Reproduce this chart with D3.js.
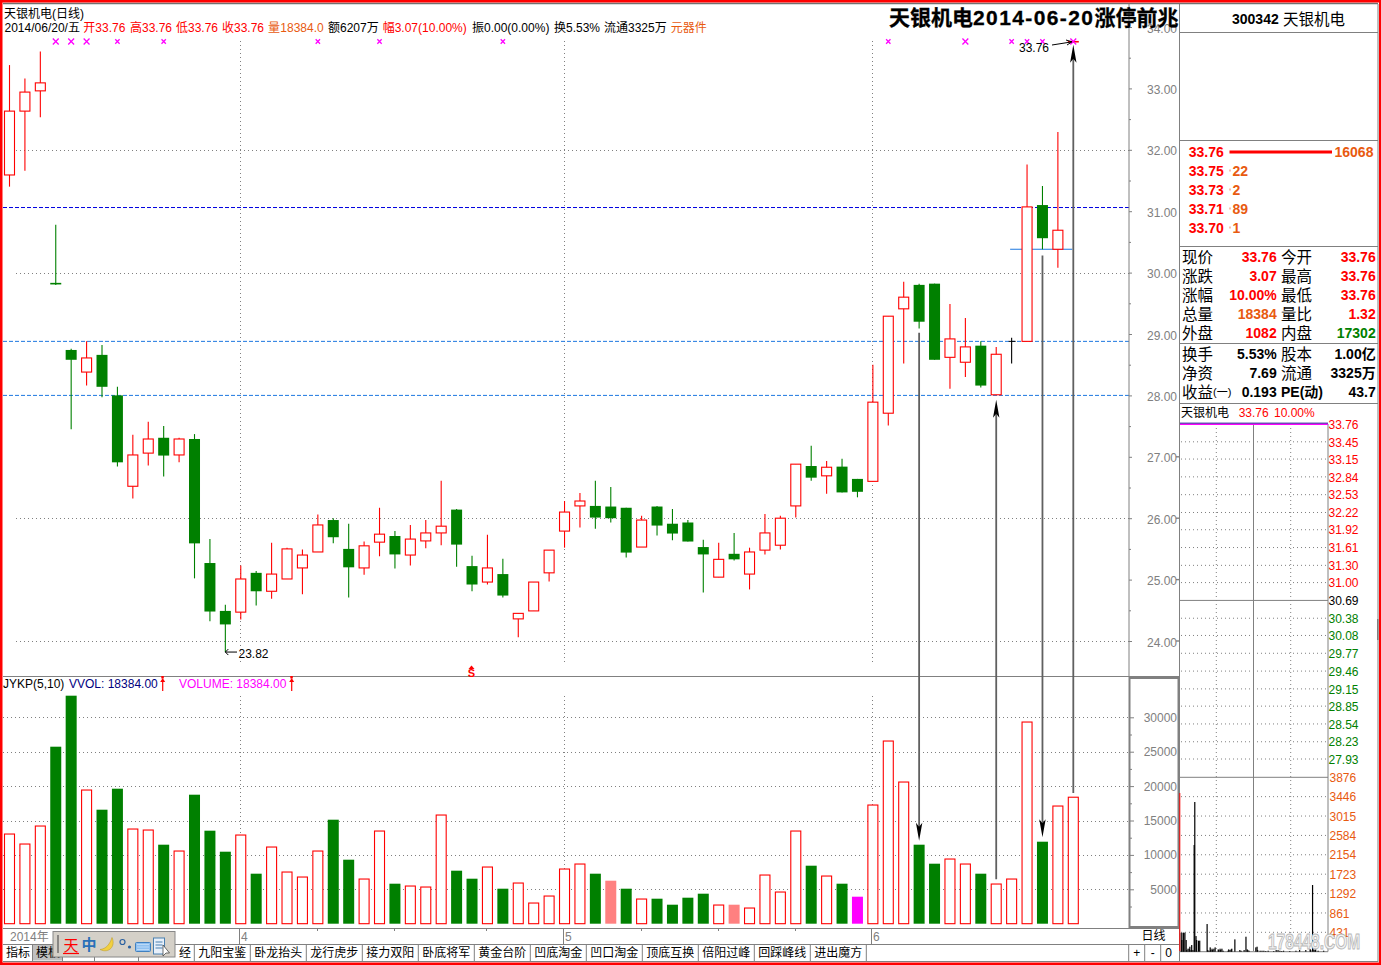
<!DOCTYPE html>
<html><head><meta charset="utf-8">
<style>html,body{margin:0;padding:0;background:#fff}svg{display:block;position:absolute;left:0;top:0}
text{font-family:"Liberation Sans","Noto Sans CJK SC",sans-serif;font-size:12px;dominant-baseline:central}</style>
<script src="https://d3js.org/d3.v7.min.js"></script></head><body>
<script>
// ---------- daily candles ----------
const opens=[31.59,32.63,32.96,29.82,28.74,28.38,28.66,28.00,26.52,27.06,
27.31,27.03,27.29,25.27,24.49,24.47,25.11,24.81,25.01,25.19,
25.45,25.97,25.50,25.19,25.61,25.71,25.40,25.63,25.76,26.14,
25.22,24.96,25.09,24.36,24.49,25.11,25.79,26.20,26.20,26.19,
26.17,25.53,26.19,25.91,25.93,25.53,25.04,25.42,25.09,25.48,
25.56,26.20,26.85,26.69,26.84,26.64,26.60,27.71,29.41,29.80,
29.82,28.62,28.54,28.81,28.01,28.88,28.88,31.10,30.38,33.76];
const closes=[32.63,32.94,33.09,29.80,28.58,28.61,28.14,26.91,27.03,27.29,
27.02,27.29,25.59,24.48,24.27,25.01,24.81,25.09,25.50,25.40,
25.89,25.69,25.20,25.55,25.74,25.41,25.66,25.76,25.87,25.57,
24.92,25.19,24.74,24.45,24.96,25.48,26.10,26.28,26.01,26.00,
25.44,25.97,25.88,25.75,25.62,25.41,25.33,25.33,25.45,25.76,
26.00,26.88,26.66,26.83,26.42,26.43,27.89,29.29,29.60,29.20,
28.58,28.92,28.79,28.16,28.67,28.88,31.07,30.56,30.69,33.76];
const highs=[33.38,33.16,33.60,30.78,28.76,28.88,28.82,28.14,27.36,27.57,
27.50,27.31,27.37,25.66,24.59,25.23,25.14,25.60,25.52,25.49,
26.06,26.00,25.91,25.62,26.17,25.79,25.89,25.97,26.61,26.15,
25.39,25.73,25.34,24.45,24.96,25.48,26.28,26.41,26.61,26.51,
26.17,26.04,26.20,26.15,25.97,25.65,25.60,25.76,25.52,26.07,
26.04,26.88,27.18,26.93,26.97,26.64,28.50,29.29,29.85,29.82,
29.82,29.49,29.26,28.88,28.79,28.94,31.76,31.41,32.29,33.76];
const lows=[31.40,31.66,32.53,29.80,27.45,28.16,27.97,26.84,26.32,26.86,
26.68,26.91,25.02,24.32,23.82,24.35,24.58,24.69,25.01,24.76,
25.45,25.59,24.71,25.08,25.38,25.18,25.23,25.51,25.56,25.21,
24.81,24.92,24.71,24.06,24.49,24.97,25.52,25.85,25.83,25.93,
25.36,25.53,25.72,25.64,25.62,24.79,25.04,25.31,24.84,25.41,
25.49,26.01,26.61,26.40,26.42,26.34,26.60,27.51,28.52,29.09,
28.58,28.11,28.30,28.13,28.01,28.52,28.88,30.38,30.08,33.76];
const volumes=[13033,11580,14196,25727,33140,19428,16570,19622,13760,13614,
11483,10562,18750,13518,10465,12888,7268,11144,7510,6783,
10562,15116,9302,6492,13469,5814,5475,5330,15795,7704,
6541,8237,5087,5911,3004,4021,7946,8673,7268,6250,
5087,3585,3634,2762,3779,4361,2713,2762,2277,7074,
4603,13469,8430,6928,5814,3924,17248,26551,20591,11483,
8721,9399,8673,7268,5766,6492,29312,11919,17103,18384];
const pinkBars=[39,47], magentaBars=[55], redVolumeDoji=[65,69];
const markerIdx=[3,4,5,7,10,20,24,32,57,62,65,66,67,69], bigMarkers=[3,4,5,62,69];
const priceTicks=[24,25,26,27,28,29,30,31,32,33,34];
const priceMinor=[24.5,25.5,26.5,27.5,28.5,29.5,30.5,31.5,32.5,33.5];
const gridPrices=[24,26,30,32];
const volTicks=[5000,10000,15000,20000,25000,30000];
const volMinor=[2500,7500,12500,17500,22500,27500];
const monthIdx=[15,36,56], monthLabels=["4","5","6"];
const weekTickIdx=[20,25,31,41,46,51];
const arrows=[{i:59,from:["p",29.02],to:["v",12060]},{i:64,from:["v",6450],to:["p",27.93]},
 {i:67,from:["p",30.28],to:["v",12550]},{i:69,from:["v",19000],to:["p",33.71]}];
const tabs=["九阳宝鉴","卧龙抬头","龙行虎步","接力双阳","卧底将军","黄金台阶","凹底淘金","凹口淘金","顶底互换","倍阳过峰","回踩峰线","进出魔方"];
// ---------- quote panel ----------
const bookPrices=["33.76","33.75","33.73","33.71","33.70"], bookVols=[16068,22,2,89,1];
const statRows=[["现价","33.76","今开","33.76","#f00","#f00"],["涨跌","3.07","最高","33.76","#f00","#f00"],
["涨幅","10.00%","最低","33.76","#f00","#f00"],["总量","18384","量比","1.32","#e85a10","#f00"],
["外盘","1082","内盘","17302","#f00","#008000"]];
const statRows2=[["换手","5.53%","股本","1.00亿"],["净资","7.69","流通","3325万"],["收益","0.193","PE(动)","43.7"]];
// ---------- intraday panel ----------
const intraPriceLabels=[33.76,33.45,33.15,32.84,32.53,32.22,31.92,31.61,31.30,31.00,30.69,30.38,30.08,29.77,29.46,29.15,28.85,28.54,28.23,27.93];
const intraVolLabels=[3876,3446,3015,2584,2154,1723,1292,861,431];
const intraMinutes=[1,2,4,5,7,9,10,12,14,15,17,18,20,22,23,25,26,29,31,43,44,46,48,49,51,52,54,56,61,62,64,65,67,69,77,78,80,82,83,88,96,98,103,106,108,109,111,122,124,125,129,132,135,138,142,151,155,158,161,164,167,177,187,193,203,210,211,214,216,218,219,223,232];
const intraVols=[422,260,422,422,422,260,37,67,67,111,37,148,37,2371,3327,348,260,245,245,615,37,22,96,37,67,37,67,96,52,37,67,37,67,22,22,52,37,52,67,274,37,22,37,333,52,37,22,96,111,37,22,22,22,15,22,15,37,37,22,15,22,15,22,37,37,59,37,1482,52,37,52,22,22];

// ---------- scales ----------
const xDay=d3.scaleLinear().domain([0,69]).range([9.5,1073.3]);
const yPrice=d3.scaleLinear().domain([24,34]).range([641,27]);
const yVol=d3.scaleLinear().domain([0,30000]).range([923.7,717.3]);
const xIntra=d3.scaleLinear().domain([0,240]).range([1180,1328]);
const yIntraP=d3.scaleLinear().domain([27.93,33.76]).range([759,424]);
const yIntraV=d3.scaleLinear().domain([0,3876]).range([951.7,777.3]);
const RED="#f00",GREEN="#008000",GRAY="#808080",ORANGE="#e85a10",LBLUE="#1e78e0";
const data=opens.map((o,i)=>({i,o,c:closes[i],h:highs[i],l:lows[i],v:volumes[i]}));
const colorOf=d=>d.c>d.o?RED:d.c<d.o?GREEN:(d.i===65?"#000":RED);

const svg=d3.select("body").append("svg").attr("width",1381).attr("height",965);
svg.append("rect").attr("width",1381).attr("height",965).attr("fill","#fff");
const hline=(g,x1,x2,y,c=GRAY,w=1,d=null)=>g.append("line").attr("x1",x1).attr("x2",x2).attr("y1",y).attr("y2",y).attr("stroke",c).attr("stroke-width",w).attr("stroke-dasharray",d);
const vline=(g,x,y1,y2,c=GRAY,w=1,d=null)=>g.append("line").attr("x1",x).attr("x2",x).attr("y1",y1).attr("y2",y2).attr("stroke",c).attr("stroke-width",w).attr("stroke-dasharray",d);
const txt=(g,x,y,s,c="#000",a="start",fs=12,fw="normal")=>g.append("text").attr("x",x).attr("y",y).attr("fill",c).attr("text-anchor",a).attr("font-size",fs).style("font-size",fs+"px").attr("font-weight",fw).text(s);

// ---------- grids ----------
const grid=svg.append("g");
gridPrices.forEach(p=>hline(grid,16,1129,Math.round(yPrice(p))+.5,GRAY,1,"1 3"));
volTicks.forEach(v=>hline(grid,3,1129,Math.round(yVol(v))+.5,GRAY,1,"1 3"));
monthIdx.forEach(i=>{const x=Math.floor(xDay(i))+.5;
  vline(grid,x,41,662,GRAY,1,"1 3");vline(grid,x,696,924,GRAY,1,"1 3");});
hline(grid,3,1129,yPrice(31.06),"#0000e0",1,"4 2");
hline(grid,3,1129,yPrice(28.88),LBLUE,1,"4 2");
hline(grid,3,1129,yPrice(28.00),LBLUE,1,"4 2");
hline(grid,xDay(65)-1.5,xDay(69)-1,yPrice(30.38),LBLUE,1.2);

// ---------- candles ----------
const candles=svg.append("g");
candles.selectAll("line.w").data(data).join("line").attr("class","w")
 .attr("x1",d=>xDay(d.i)).attr("x2",d=>xDay(d.i)).attr("y1",d=>yPrice(d.h)).attr("y2",d=>yPrice(d.l))
 .attr("stroke",colorOf).attr("stroke-width",1.1);
candles.selectAll("rect.b").data(data.filter(d=>d.c!==d.o&&Math.abs(d.c-d.o)>.03)).join("rect").attr("class","b")
 .attr("x",d=>xDay(d.i)-(d.c>d.o?5:5.5)).attr("width",d=>d.c>d.o?10:11)
 .attr("y",d=>yPrice(Math.max(d.o,d.c))).attr("height",d=>Math.abs(yPrice(d.o)-yPrice(d.c)))
 .attr("fill",d=>d.c>d.o?"#fff":GREEN).attr("stroke",d=>d.c>d.o?RED:GREEN).attr("stroke-width",d=>d.c>d.o?1.1:0);
candles.selectAll("line.f").data(data.filter(d=>Math.abs(d.c-d.o)<=.03)).join("line").attr("class","f")
 .attr("x1",d=>xDay(d.i)-(d.i===65?3:5.5)).attr("x2",d=>xDay(d.i)+(d.i===65?4:5.5)).attr("y1",d=>yPrice(d.o)).attr("y2",d=>yPrice(d.o))
 .attr("stroke",colorOf).attr("stroke-width",d=>d.i===65?1:1.6);

// ---------- volume ----------
const volFill=d=>pinkBars.includes(d.i)?"#ff8080":magentaBars.includes(d.i)?"#ff00ff":(d.c<d.o?GREEN:"#fff");
const isFilled=d=>volFill(d)!=="#fff";
svg.append("g").selectAll("rect").data(data).join("rect")
 .attr("x",d=>xDay(d.i)-(isFilled(d)?5.5:5)).attr("width",d=>isFilled(d)?11:10)
 .attr("y",d=>yVol(d.v)).attr("height",d=>yVol(0)-yVol(d.v))
 .attr("fill",volFill).attr("stroke",d=>isFilled(d)?"none":RED).attr("stroke-width",1.1);

// ---------- frame lines ----------
const fr=svg.append("g");
hline(fr,3,1378,3.5,"#707070",1.4);
hline(fr,3,1179,676.5);
vline(fr,1129,4,677,GRAY,1);
fr.append("rect").attr("x",1129.5).attr("y",678).attr("width",49).attr("height",249).attr("fill","none").attr("stroke",GRAY).attr("stroke-width",2);
hline(fr,3,1179,928.5);hline(fr,3,1179,944.5);hline(fr,3,1378,961.5);
vline(fr,1179.5,4,962);vline(fr,1378,4,962);

// ---------- axes ----------
const pa=svg.append("g").attr("transform","translate(1129,0)").call(d3.axisRight(yPrice).tickValues(priceTicks).tickSize(3).tickPadding(5).tickFormat(d3.format(".2f")));
pa.select(".domain").remove();pa.selectAll("line").attr("stroke",GRAY);
pa.selectAll("text").attr("fill",GRAY).attr("x",48).attr("text-anchor","end").attr("dy","1px").style("font-size","12px");
const pm=svg.append("g").attr("transform","translate(1129,0)").call(d3.axisRight(yPrice).tickValues(priceMinor).tickSize(2).tickFormat(""));
pm.select(".domain").remove();pm.selectAll("line").attr("stroke",GRAY);
const va=svg.append("g").attr("transform","translate(1130,0)").call(d3.axisRight(yVol).tickValues(volTicks).tickSize(4).tickFormat(d3.format("d")));
va.select(".domain").remove();va.selectAll("line").attr("stroke",GRAY);
va.selectAll("text").attr("fill",GRAY).attr("x",47).attr("text-anchor","end").attr("dy",null).style("font-size","12px");
const vm=svg.append("g").attr("transform","translate(1130,0)").call(d3.axisRight(yVol).tickValues(volMinor).tickSize(2).tickFormat(""));
vm.select(".domain").remove();vm.selectAll("line").attr("stroke",GRAY);
[24,25,26,27].forEach(p=>hline(fr,1176,1179,yPrice(p),GRAY,1.4));

// ---------- time axis ----------
const ta=svg.append("g");
txt(ta,10,937,"2014年",GRAY,"start",12);
monthIdx.forEach((i,k)=>{const x=Math.floor(xDay(i))-.5;vline(ta,x,929,944);txt(ta,x+1.5,937,monthLabels[k],GRAY);});
weekTickIdx.forEach(i=>vline(ta,Math.round(xDay(i))-.5,928,931));

// ---------- tabs ----------
const tb=svg.append("g");
tb.append("rect").attr("x",33).attr("y",945).attr("width",29).attr("height",15.5).attr("fill","#c0c0c0");
txt(tb,6,953,"指标");txt(tb,36,953,"模板");
txt(tb,179,953,"经");
[32.5,62.5,94.5,138.5].forEach(x=>vline(tb,x,945,961));
tabs.forEach((t,k)=>{const x=194.3+56*k;vline(tb,x,945,961);txt(tb,x+4,953,t);});
vline(tb,194.3+56*12,945,961);
[1128.7,1144.7,1160.7].forEach(x=>vline(tb,x,945,961));
txt(tb,1153.5,936,"日线","#000","middle");
txt(tb,1136.7,953,"+","#000","middle");txt(tb,1152.7,953,"-","#000","middle");txt(tb,1168.7,953,"0","#000","middle");

// ---------- input toolbar ----------
const it=svg.append("g");
it.append("rect").attr("x",53).attr("y",931.5).attr("width",122).attr("height",25.5).attr("fill","#d4d0c8").attr("stroke","#888");
vline(it,58,935,953,"#555",1.2);
txt(it,71,945,"天",RED,"middle",15);hline(it,63,79,953.5,RED,1.2);
txt(it,89,944,"中","#2a70b8","middle",15,"bold");
it.append("path").attr("d","M112,937.5 C116,946 109,954 100,949.5 C106,949 110,944 112,937.5Z").attr("fill","#f2d040").attr("stroke","#c0a030").attr("stroke-width",.6);
it.append("circle").attr("cx",122.5).attr("cy",942).attr("r",2.5).attr("fill","none").attr("stroke","#2a60a0").attr("stroke-width",1.2);
it.append("circle").attr("cx",129.5).attr("cy",947).attr("r",1.6).attr("fill","#2a60a0");
it.append("rect").attr("x",135.5).attr("y",942.5).attr("width",15).attr("height",9).attr("rx",1).attr("fill","#8fc0f0").attr("stroke","#4080c0");
[944.5,947,949.5].forEach(y=>hline(it,137.5,148.5,y,"#fff",.8,"1 1"));
it.append("rect").attr("x",153.5).attr("y",938).attr("width",11).attr("height",16).attr("fill","#e8f0fa").attr("stroke","#4a80b0");
[942,945,948].forEach(y=>hline(it,155.5,162.5,y,"#4a80b0",1));
it.append("path").attr("d","M163,945 L163,956 L166,953 L169.5,953Z").attr("fill","#fff").attr("stroke","#333").attr("stroke-width",.7);

// ---------- main header ----------
const h=svg.append("g");
txt(h,4,14,"天银机电(日线)");
[[4.5,"2014/06/20/五","#000"],[83.3,"开33.76",RED],[130,"高33.76",RED],[176,"低33.76",RED],[222,"收33.76",RED],
 [268,"量",ORANGE],[280.3,"18384.0",ORANGE],[328,"额6207万","#000"],[382.7,"幅3.07(10.00%)",RED],[472,"振0.00(0.00%)","#000"],
 [554,"换5.53%","#000"],[604,"流通3325万","#000"],[670.7,"元器件",ORANGE]].forEach(d=>txt(h,d[0],28,d[1],d[2]));
const tt=h.append("text").attr("x",889).attr("y",17).attr("font-weight","bold").style("font-size","21px").attr("fill","#000").attr("stroke","#000").attr("stroke-width",.3);
tt.append("tspan").text("天银机电");
tt.append("tspan").style("letter-spacing","1.4px").text("2014-06-20");
tt.append("tspan").text("涨停前兆");
txt(h,3,684,"JYKP(5,10)");txt(h,69,684,"VVOL: 18384.00","#000080");txt(h,179,684,"VOLUME: 18384.00","#ff00ff");
[162.7,291.7].forEach(x=>{vline(h,x,680,691,RED,1.2);h.append("path").attr("d",`M${x-2.5},682 L${x},678 L${x+2.5},682Z`).attr("fill",RED);});

// ---------- markers & annotations ----------
const mk=svg.append("g");
mk.selectAll("path").data(markerIdx).join("path")
 .attr("d",d=>d3.symbol(d3.symbolX,bigMarkers.includes(d)?24:14)())
 .attr("transform",d=>`translate(${xDay(d)},41.5)`).attr("stroke","#ff00ff").attr("stroke-width",1.3).attr("fill","none");
[162.3,291.3].forEach(x=>mk.append("rect").attr("x",x-1).attr("y",676).attr("width",2.5).attr("height",2.5).attr("fill",RED));
txt(mk,471.5,673,"S",RED,"middle",11,"bold");
mk.append("path").attr("d","M471.5,665.5 L468.5,669 L474.5,669Z").attr("fill",RED);
const ypt=a=>a[0]==="p"?yPrice(a[1]):yVol(a[1]);
const arr=svg.append("g");
arrows.forEach(a=>{const x=xDay(a.i),y1=ypt(a.from),y2=ypt(a.to),s=y2>y1?1:-1;
 vline(arr,x,y1,y2-s*10,"#606060",1.8);
 arr.append("path").attr("d",`M${x},${y2} L${x-3.2},${y2-s*18} L${x},${y2-s*14} L${x+3.2},${y2-s*18}Z`).attr("fill","#000");});
const y382=yPrice(23.82);
hline(arr,xDay(14),237,y382,"#000",1);
arr.append("path").attr("d",`M${xDay(14)+3},${y382-3} L${xDay(14)},${y382} L${xDay(14)+3},${y382+3}`).attr("fill","none").attr("stroke","#000");
txt(arr,238.5,654,"23.82");
txt(arr,1019,48,"33.76");
arr.append("line").attr("x1",1052).attr("x2",1071).attr("y1",45).attr("y2",42).attr("stroke","#000");
arr.append("path").attr("d","M1066,40 L1072,41.8 L1067,45").attr("fill","none").attr("stroke","#000");

// ---------- quote panel ----------
const q=svg.append("g");
[32.5,140.5,246.5,343.5,403.5].forEach(y=>hline(q,1180,1378,y));
txt(q,1232,19,"300342","#000","start",14,"bold");
txt(q,1283,19,"天银机电","#000","start",15.5);
const xBook=d3.scaleLinear().domain([0,16068]).range([1229.5,1332]);
bookPrices.forEach((p,k)=>{const y=152+19*k;
 txt(q,1188.7,y,p,RED,"start",14,"bold");
 const w=xBook(bookVols[k]);
 q.append("rect").attr("x",1229.5).attr("y",y-1.5).attr("width",Math.max(w-1229.5,1)).attr("height",k?2:3).attr("fill",k?"#f08060":RED);
 txt(q,k?1232.5:1334.5,y,bookVols[k],ORANGE,"start",14,"bold");});
statRows.forEach((r,k)=>{const y=257+19*k;
 txt(q,1182,y,r[0],"#000","start",15.5);txt(q,1276.7,y,r[1],r[4],"end",14,"bold");
 txt(q,1281,y,r[2],"#000","start",15.5);txt(q,1375.7,y,r[3],r[5],"end",14,"bold");});
statRows2.forEach((r,k)=>{const y=354+19.1*k;
 txt(q,1182,y,r[0],"#000","start",15.5);txt(q,1276.7,y,r[1],"#000","end",14,"bold");
 txt(q,1281,y,r[2],"#000","start",k==2?14:15.5,k==2?"bold":"normal");txt(q,1375.7,y,r[3],"#000","end",14,"bold");});
txt(q,1213,392,"(一)","#000","start",11);

// ---------- intraday ----------
const m=svg.append("g");
txt(m,1181,413,"天银机电");txt(m,1238.7,413,"33.76",RED);txt(m,1274,413,"10.00%",RED);
intraPriceLabels.forEach((p,k)=>{const y=yIntraP(p);
 if(k>0&&p!==30.69)hline(m,1181,1328,y,GRAY,1,"1 3");
 txt(m,1328.5,y+.7,d3.format(".2f")(p),p>30.69?RED:p===30.69?"#000":GREEN);});
hline(m,1180,1328,yIntraP(30.69));
intraVolLabels.forEach((v,k)=>{const y=yIntraV(v);
 if(k>0)hline(m,1181,1328,y,GRAY,1,"1 3");
 txt(m,1329.5,y+.7,v,ORANGE);});
hline(m,1180,1328,yIntraV(3876));
hline(m,1180,1328,yIntraV(0));
[1216.3,1290.7].forEach(x=>vline(m,x,424,951,GRAY,1,"1 3"));
vline(m,1253.5,424,951);vline(m,1328,424,951.5);
m.selectAll("rect").data(intraMinutes).join("rect")
 .attr("x",d=>xIntra(d)).attr("width",1.2)
 .attr("y",(d,k)=>yIntraV(intraVols[k])).attr("height",(d,k)=>yIntraV(0)-yIntraV(intraVols[k])).attr("fill","#000");
vline(m,1179.8,793,951,RED,1);
hline(m,1180,1328,yIntraP(33.76)-.8,"#000080",1);
hline(m,1180,1328,yIntraP(33.76)+.3,"#ff00ff",1.2);
// watermark
svg.append("text").attr("transform","translate(1268,941) scale(1,1.45)").style("font-size","15.5px").attr("font-weight","bold")
 .attr("fill","#f2f2f2").attr("stroke","#b8b8b8").attr("stroke-width",.7).text("178448.COM");
// scrollbar sliver and outer red frame
svg.append("rect").attr("x",1377).attr("y",619).attr("width",1.5).attr("height",21).attr("fill",GRAY);
const rf=svg.append("g").attr("fill",RED);
rf.append("rect").attr("x",0).attr("y",0).attr("width",1381).attr("height",2.5);
rf.append("rect").attr("x",0).attr("y",0).attr("width",2.5).attr("height",965);
rf.append("rect").attr("x",1379).attr("y",0).attr("width",2).attr("height",965);
rf.append("rect").attr("x",0).attr("y",962.5).attr("width",1381).attr("height",2.5);
</script></body></html>
